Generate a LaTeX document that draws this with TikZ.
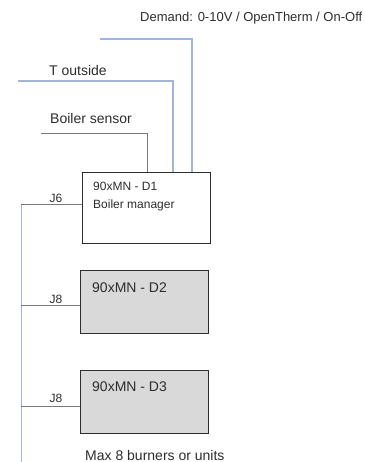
\documentclass[tikz,border=0pt]{standalone}
\usepackage{fontspec}
\setmainfont{Liberation Sans}
\usetikzlibrary{positioning}
\definecolor{wireblue}{RGB}{160,180,220}
\definecolor{wiregray}{RGB}{120,120,130}
\definecolor{boxgray}{RGB}{217,217,217}
\definecolor{inkgray}{RGB}{45,45,45}
\tikzset{
  unitbox/.style={draw=inkgray, line width=1pt, minimum width=128pt, minimum height=63pt, inner sep=0pt},
  label/.style={text=inkgray, inner sep=0pt, font=\fontsize{14}{16}\selectfont},
  small/.style={text=inkgray, inner sep=0pt, font=\fontsize{12}{14}\selectfont},
  bluewire/.style={draw=wireblue, line width=1.2pt},
  graywire/.style={draw=wiregray, line width=0.8pt}
}
\begin{document}
\begin{tikzpicture}[x=1pt,y=-1pt]
  \useasboundingbox (0,0) rectangle (364,462);

  % the three modules
  \node [unitbox, minimum height=71pt, anchor=north west] (d1) at (82,172) {};
  \node [unitbox, fill=boxgray, anchor=north west] (d2) at (80,270) {};
  \node [unitbox, fill=boxgray, anchor=north west] (d3) at (80,370) {};

  \node [small, anchor=base west] (d1name) at (93,190) {90xMN - D1};
  \node [small, anchor=base west] (d1role) at (93,208) {Boiler manager};
  \node [label, anchor=base west] (d2name) at (92,292) {90xMN - D2};
  \node [label, anchor=base west] (d3name) at (92,391) {90xMN - D3};

  % inputs
  \coordinate (demand) at (100,39);
  \coordinate (toutside) at (18,81);
  \coordinate (sensor) at (41,133);
  \node [label, font=\fontsize{13}{15}\selectfont, anchor=base west] (demandtxt) at (140,22) {Demand: 0-10V / OpenTherm / On-Off};
  \node [label, anchor=base west] (touttxt) at (49,76) {T outside};
  \node [label, anchor=base west] (sensortxt) at (50,124) {Boiler sensor};

  \draw [bluewire] (demand) -| ([xshift=110pt]d1.north west);
  \draw [bluewire] (toutside) -| ([xshift=91pt]d1.north west);
  \draw [graywire] (sensor) -| ([xshift=65pt]d1.north west);

  % bus
  \coordinate (j6) at (21,204);
  \coordinate (j8a) at (21,305);
  \coordinate (j8b) at (21,406);
  \coordinate (busend) at (21,462);
  \draw [bluewire, line width=0.8pt] (j6) -- (busend);
  \draw [graywire] (j6) -- (j6 -| d1.west);
  \draw [graywire] (j8a) -- (j8a -| d2.west);
  \draw [graywire] (j8b) -- (j8b -| d3.west);
  \node [small, anchor=base] (j6txt) at (56,202) {J6};
  \node [small, anchor=base] (j8atxt) at (56,303) {J8};
  \node [small, anchor=base] (j8btxt) at (56,402) {J8};

  \node [label, anchor=base west] (maxtxt) at (85,460) {Max 8 burners or units};
\end{tikzpicture}
\end{document}
